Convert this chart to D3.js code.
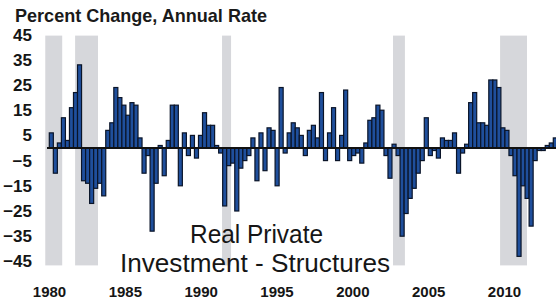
<!DOCTYPE html>
<html><head><meta charset="utf-8">
<script src="https://cdn.jsdelivr.net/npm/d3@7"></script>
<style>
body{margin:0;background:#fff}
svg{display:block}
text{font-family:"Liberation Sans",Arial,Helvetica,sans-serif}
</style>
</head><body>
<svg id="chart" width="556" height="305"></svg>
<script>
// ---- data ----
const startYear = 1979, startQuarter = 4;
const values = [
  6,-10,2,12,3,16,22,33,-13,-14,-22,-16,-14,-19,7,10,24,20,17,13,18,17,4,-10,-3,
  -33,-14,1,-11,3,17,17,-15,6,-3,5,-4,5,14,9,9,1,-2,-23,-7,-6,-25,-8,-5,-3,4,
  -13,6,-9,8,7,-15,24,-2,6,10,8,5,-3,7,9,4,22,-5,6,16,-5,5,23,-5,-3,-2,-6,2,
  11,12,17,15,-3,-12,1.5,-3,-35,-26,-20,-16,-10,-5,12,-3,-1,-4,4,3,3,6,-10,-2,
  1.5,18,22,10,10,9,27,27,24,8,7,-3,-11,-43,-15,-20,-31,-5,-1,-1,1,2,4
];
const yTicks = [45,35,25,15,5,-5,-15,-25,-35,-45];
const yearLabels = ["1980","1985","1990","1995","2000","2005","2010"];
const recessions = [[1979.5,1980.55],[1981.35,1982.77],[1990.46,1991.02],[2001.06,2001.8],[2007.7,2009.37]];
const titleText = "Percent Change, Annual Rate";
const noteLines = ["Real Private","Investment - Structures"];

// ---- build ----
const quarters = values.map((v,i)=>{const q=startQuarter-1+i;return `${startYear+Math.floor(q/4)}Q${q%4+1}`;});
const svg = d3.select("#chart");
const x0 = 49.3, step = 4.032;
const x1 = x0 + step*values.length;
const x = d3.scaleBand().domain(quarters).range([x0,x1]).padding(0);
const t = d3.scaleLinear().domain([startYear+(startQuarter-1)/4, startYear+(startQuarter-1)/4+values.length/4]).range([x0,x1]);
const y = d3.scaleLinear().domain([-45,45]).range([261.4,34.6]);

// recession bands
svg.append("g").selectAll("rect").data(recessions).join("rect")
  .attr("x",d=>t(d[0])).attr("width",d=>t(d[1])-t(d[0]))
  .attr("y",y(45)+1).attr("height",y(-45)-y(45)+3)
  .attr("fill","#d6d7db");

// bars
svg.append("g").selectAll("rect").data(values).join("rect")
  .attr("x",(d,i)=>x(quarters[i])).attr("width",x.bandwidth())
  .attr("y",d=>y(Math.max(0,d))).attr("height",d=>Math.abs(y(d)-y(0)))
  .attr("fill","#1f4f9c").attr("stroke","#0a1428").attr("stroke-width",1.2);

// zero line
svg.append("line").attr("x1",47).attr("x2",556).attr("y1",y(0)).attr("y2",y(0))
  .attr("stroke","#111").attr("stroke-width",2);

// y axis labels
const ya = svg.append("g").attr("transform","translate(32,0)")
  .call(d3.axisLeft(y).tickValues(yTicks).tickSize(0).tickPadding(0).tickFormat(d3.format("d")));
ya.select(".domain").remove();
ya.selectAll("text").attr("font-size",17).attr("font-weight","bold").attr("fill","#151515")
  .style("font-family","'Liberation Sans',Arial,sans-serif");

// x axis labels
const xl = d3.scalePoint().domain(yearLabels).range([49,504]);
const xa = svg.append("g").attr("transform","translate(0,283)")
  .call(d3.axisBottom(xl).tickSize(0).tickPadding(3));
xa.select(".domain").remove();
xa.selectAll("text").attr("font-size",15).attr("font-weight","bold").attr("fill","#151515")
  .style("font-family","'Liberation Sans',Arial,sans-serif");

// title
svg.append("text").attr("x",15).attr("y",22).attr("font-size",18.5).attr("font-weight","bold")
  .attr("textLength",252).attr("lengthAdjust","spacingAndGlyphs")
  .attr("fill","#1a1a1a").text(titleText);

// annotation
const notePos = [[190,243,133],[120,272,270]];
svg.append("g").selectAll("text").data(noteLines).join("text")
  .attr("x",(d,i)=>notePos[i][0]).attr("y",(d,i)=>notePos[i][1])
  .attr("textLength",(d,i)=>notePos[i][2]).attr("lengthAdjust","spacingAndGlyphs")
  .attr("font-size",26).attr("fill","#161616").text(d=>d);
</script>
</body></html>
